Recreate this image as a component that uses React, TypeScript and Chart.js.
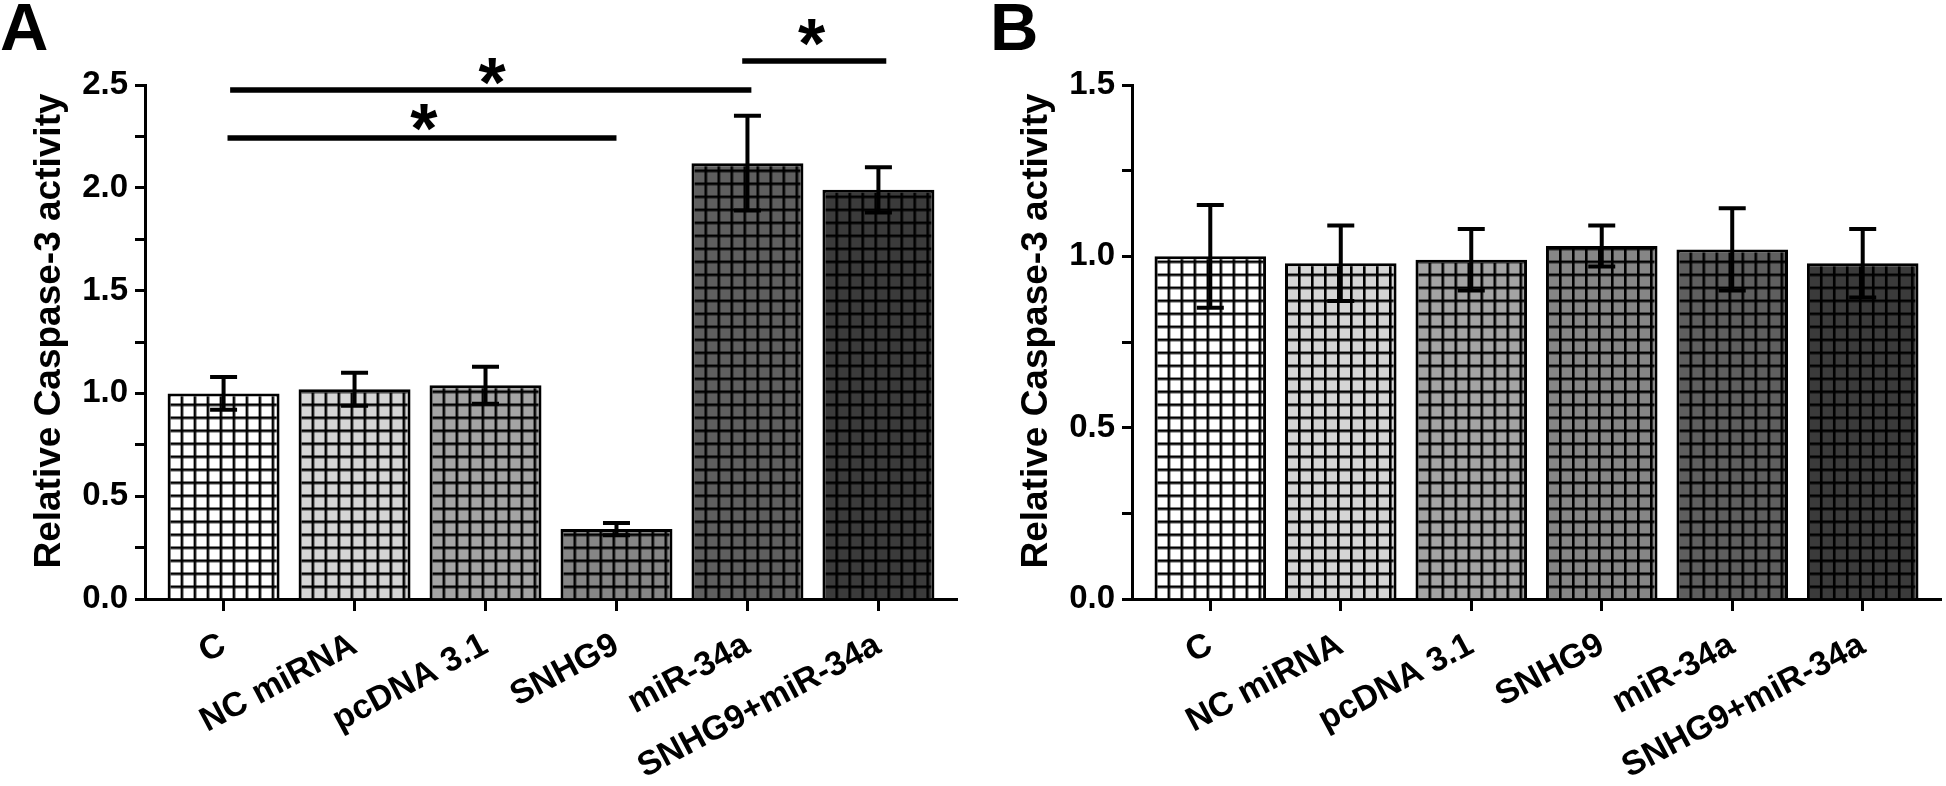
import React, { useEffect, useRef } from "react";
import { Chart, registerables } from "chart.js";

Chart.register(...registerables);

const FONT = '"Liberation Sans", Arial, Helvetica, sans-serif';

// ---------- data ----------
const categories = ["C", "NC miRNA", "pcDNA 3.1", "SNHG9", "miR-34a", "SNHG9+miR-34a"];
const fillColors = ["#ffffff", "#d5d5d5", "#a4a4a4", "#868686", "#5f5f5f", "#3b3b3b"];

const valuesA = [1.0, 1.02, 1.04, 0.34, 2.12, 1.99];
const errorsA = [0.08, 0.08, 0.09, 0.03, 0.23, 0.11];

const valuesB = [1.0, 0.98, 0.99, 1.03, 1.02, 0.98];
const errorsB = [0.15, 0.11, 0.09, 0.06, 0.12, 0.1];

const yTitle = "Relative Caspase-3 activity";

// significance brackets for panel A (category index range, value level)
const sigLinesA = [
  { from: 0.03, to: 3.0, y: 2.242 },
  { from: 0.05, to: 4.03, y: 2.476 },
  { from: 3.96, to: 5.06, y: 2.617 },
];
const sigStarsA = [
  { x: 1.53, y: 2.344, text: "*" },
  { x: 2.05, y: 2.568, text: "*" },
  { x: 4.49, y: 2.753, text: "*" },
];

const W = 973;
const H = 786;
const AXIS_Y = 599;
const TOP = 85;

type PanelCfg = {
  letter: string;
  letterX: number;
  values: number[];
  errors: number[];
  yMax: number;
  axisLeft: number;
  rightPad: number;
  titleX: number;
  sig: boolean;
};

const panels: PanelCfg[] = [
  { letter: "A", letterX: 0, values: valuesA, errors: errorsA, yMax: 2.5, axisLeft: 145, rightPad: 16, titleX: 60, sig: true },
  { letter: "B", letterX: 17, values: valuesB, errors: errorsB, yMax: 1.5, axisLeft: 159, rightPad: 5, titleX: 74, sig: false },
];

function makePattern(color: string): CanvasPattern {
  const size = 13;
  const c = document.createElement("canvas");
  c.width = size;
  c.height = size;
  const g = c.getContext("2d")!;
  g.fillStyle = color;
  g.fillRect(0, 0, size, size);
  g.fillStyle = "#000";
  g.fillRect(0, 0, size, 2.6);
  g.fillRect(0, 0, 2.6, size);
  return g.createPattern(c, "repeat")!;
}

function Panel({ cfg, left }: { cfg: PanelCfg; left: number }) {
  const ref = useRef<HTMLCanvasElement | null>(null);

  useEffect(() => {
    const canvas = ref.current;
    if (!canvas) return;
    const patterns = fillColors.map(makePattern);

    const patternAlign = {
      id: "patternAlign",
      beforeDatasetsDraw(chart: any) {
        const meta = chart.getDatasetMeta(0);
        meta.data.forEach((el: any, i: number) => {
          const p = el.getProps(["x", "width", "base"], true);
          const m = new DOMMatrix().translate(p.x - p.width / 2, p.base);
          patterns[i].setTransform(m);
        });
      },
    };

    const errorBars = {
      id: "errorBars",
      afterDatasetsDraw(chart: any) {
        const ctx = chart.ctx;
        const ys = chart.scales.y;
        const meta = chart.getDatasetMeta(0);
        ctx.save();
        ctx.strokeStyle = "#000";
        ctx.lineWidth = 4;
        ctx.lineCap = "butt";
        meta.data.forEach((el: any, i: number) => {
          const x = el.x;
          const v = cfg.values[i];
          const e = cfg.errors[i];
          const yt = ys.getPixelForValue(v + e);
          const yb = ys.getPixelForValue(v - e);
          const cap = 13.5;
          ctx.beginPath();
          ctx.moveTo(x, yt);
          ctx.lineTo(x, yb);
          ctx.moveTo(x - cap, yt);
          ctx.lineTo(x + cap, yt);
          ctx.moveTo(x - cap, yb);
          ctx.lineTo(x + cap, yb);
          ctx.stroke();
        });
        ctx.restore();
      },
    };

    const decorations = {
      id: "decorations",
      afterDraw(chart: any) {
        const ctx = chart.ctx;
        const xs = chart.scales.x;
        const ys = chart.scales.y;
        ctx.save();
        ctx.fillStyle = "#000";
        // panel letter
        ctx.font = `bold 67px ${FONT}`;
        ctx.textAlign = "left";
        ctx.textBaseline = "alphabetic";
        ctx.fillText(cfg.letter, cfg.letterX, 50);
        // y-axis title
        ctx.save();
        ctx.translate(cfg.titleX, 331);
        ctx.rotate(-Math.PI / 2);
        ctx.font = `bold 37px ${FONT}`;
        ctx.textAlign = "center";
        ctx.textBaseline = "alphabetic";
        ctx.fillText(yTitle, 0, 0);
        ctx.restore();
        // significance
        if (cfg.sig) {
          ctx.strokeStyle = "#000";
          ctx.lineWidth = 5.5;
          ctx.lineCap = "butt";
          sigLinesA.forEach((s) => {
            const y = ys.getPixelForValue(s.y);
            ctx.beginPath();
            ctx.moveTo(xs.getPixelForValue(s.from), y);
            ctx.lineTo(xs.getPixelForValue(s.to), y);
            ctx.stroke();
          });
          ctx.font = `bold 70px ${FONT}`;
          ctx.textAlign = "center";
          ctx.textBaseline = "alphabetic";
          sigStarsA.forEach((s) => {
            const m = ctx.measureText(s.text);
            const cx = xs.getPixelForValue(s.x);
            const cy = ys.getPixelForValue(s.y);
            const base = cy + (m.actualBoundingBoxAscent - m.actualBoundingBoxDescent) / 2;
            ctx.fillText(s.text, cx, base);
          });
        }
        ctx.restore();
      },
    };

    const chart = new Chart(canvas, {
      type: "bar",
      data: {
        datasets: [
          {
            data: cfg.values.map((v, i) => ({ x: i, y: v })),
            backgroundColor: patterns,
            borderColor: "#000",
            borderWidth: 3,
            borderSkipped: "start",
            barPercentage: 0.855,
            categoryPercentage: 1,
          } as any,
        ],
      },
      options: {
        responsive: false,
        animation: false,
        events: [],
        layout: { padding: { left: 0, top: TOP, right: cfg.rightPad, bottom: 0 } },
        plugins: {
          legend: { display: false },
          tooltip: { enabled: false },
          title: { display: false },
        },
        scales: {
          x: {
            type: "linear",
            offset: false,
            min: -0.6,
            max: 5.6,
            afterBuildTicks: (s: any) => {
              s.ticks = categories.map((_, i) => ({ value: i }));
            },
            afterFit: (s: any) => {
              s.height = H - AXIS_Y;
              s.paddingLeft = 0;
              s.paddingRight = 0;
            },
            grid: {
              display: true,
              offset: false,
              drawOnChartArea: false,
              drawTicks: true,
              tickLength: 12,
              tickWidth: 3,
              tickColor: "#000",
            },
            border: { display: true, width: 3, color: "#000" },
            ticks: {
              autoSkip: false,
              maxRotation: 28,
              minRotation: 28,
              padding: 14,
              color: "#000",
              font: { family: FONT, size: 34, weight: "bold" },
              callback: (v: any) => categories[Math.round(Number(v))] ?? "",
            },
          },
          y: {
            type: "linear",
            min: 0,
            max: cfg.yMax,
            afterFit: (s: any) => {
              s.width = cfg.axisLeft;
            },
            grid: {
              display: true,
              drawOnChartArea: false,
              drawTicks: true,
              tickLength: 10,
              tickWidth: 3,
              tickColor: "#000",
            },
            border: { display: true, width: 3, color: "#000" },
            ticks: {
              stepSize: 0.25,
              padding: 7,
              color: "#000",
              font: { family: FONT, size: 33, weight: "bold" },
              callback: (v: any) => {
                const n = Number(v);
                return Math.abs(n * 2 - Math.round(n * 2)) < 1e-6 ? n.toFixed(1) : "";
              },
            },
          },
        },
      } as any,
      plugins: [patternAlign, errorBars, decorations],
    });

    return () => chart.destroy();
  }, [cfg]);

  return (
    <canvas
      ref={ref}
      width={W}
      height={H}
      style={{ position: "absolute", left, top: 0, width: W, height: H, display: "block" }}
    />
  );
}

export default function App() {
  return (
    <div style={{ background: "#fff" }}>
      <div style={{ position: "absolute", left: 0, top: 0, width: 1946, height: 786, background: "#fff" }}>
        <Panel cfg={panels[0]} left={0} />
        <Panel cfg={panels[1]} left={W} />
      </div>
    </div>
  );
}
